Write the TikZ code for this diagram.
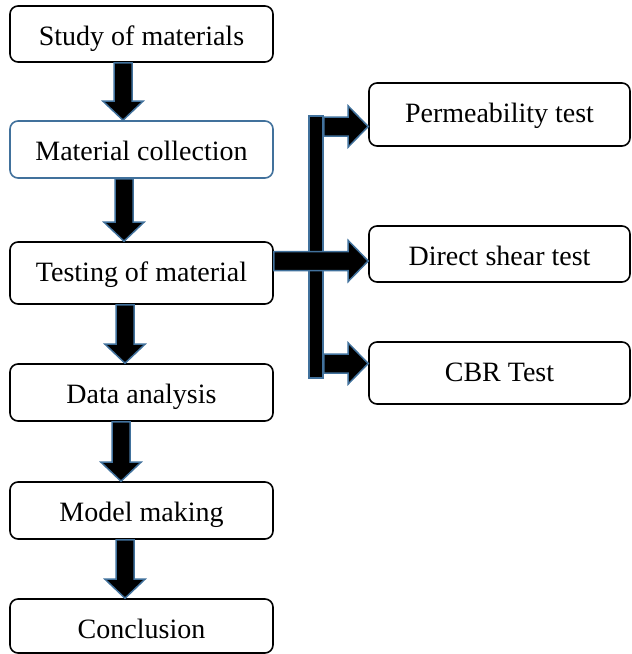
\documentclass[tikz,border=0pt]{standalone}
\usepackage{fontspec}
\setmainfont{Liberation Serif}
\usetikzlibrary{calc}
\definecolor{arrowblue}{HTML}{41719C}
\tikzset{
  box/.style={draw=black, line width=1.6pt, rounded corners=8pt, fill=white,
    inner sep=0pt, text height=39pt, font=\fontsize{28}{32}\selectfont},
  bluebox/.style={box, draw=arrowblue},
  bigarrow/.style={draw=arrowblue, fill=black, line width=1.5pt, line join=miter},
}
\newcommand\vflow[3]{%
  \draw[bigarrow] let \p1=(#1.south), \p2=(#2.north) in
   ({#3pt-9pt},\y1) -- ({#3pt+9pt},\y1) -- ({#3pt+9pt},{\y2+19pt}) -- ({#3pt+20pt},{\y2+19pt})
   -- (#3pt,\y2) -- ({#3pt-20pt},{\y2+19pt}) -- ({#3pt-9pt},{\y2+19pt}) -- cycle;}
\newcommand\hflow[3]{%
  \draw[bigarrow] let \p1=(#1), \p2=(#2.west) in
   (\x1,{#3pt+9.5pt}) -- (\x1,{#3pt-9.5pt}) -- ({\x2-20pt},{#3pt-9.5pt}) -- ({\x2-20pt},{#3pt-20.5pt})
   -- (\x2,#3pt) -- ({\x2-20pt},{#3pt+20.5pt}) -- ({\x2-20pt},{#3pt+9.5pt}) -- cycle;}
\begin{document}
\begin{tikzpicture}[x=1pt,y=1pt]
\useasboundingbox (0,0) rectangle (632,-654);
% left column
\node[box, minimum width=263, text depth=17pt] (s1) at (141.5,-34) {Study of materials};
\node[bluebox, minimum width=263, text depth=18pt] (s2) at (141.5,-149.5) {Material collection};
\node[box, minimum width=263, text depth=23pt] (s3) at (141.5,-273) {Testing of material};
\node[box, minimum width=263, text depth=18pt] (s4) at (141.5,-392.5) {Data analysis};
\node[box, minimum width=263, text depth=18pt] (s5) at (141.5,-510.5) {Model making};
\node[box, minimum width=263, text depth=15pt] (s6) at (141.5,-626) {Conclusion};
% right column
\node[box, minimum width=261, text depth=24pt] (t1) at (499.5,-114.5) {Permeability test};
\node[box, minimum width=261, text depth=17pt] (t2) at (499.5,-254) {Direct shear test};
\node[box, minimum width=261, text depth=23pt] (t3) at (499.5,-373) {CBR Test};
% vertical flow arrows
\vflow{s1}{s2}{123}
\vflow{s2}{s3}{124}
\vflow{s3}{s4}{125}
\vflow{s4}{s5}{121}
\vflow{s5}{s6}{125}
% branch bar
\node[bigarrow, minimum width=14, minimum height=262, inner sep=0pt] (bar) at (316,-247) {};
\hflow{bar.east |- 0,-126.5}{t1}{-126.5}
\hflow{bar.east |- 0,-363.5}{t3}{-363.5}
\hflow{s3.east |- 0,-261}{t2}{-261}
\end{tikzpicture}
\end{document}
